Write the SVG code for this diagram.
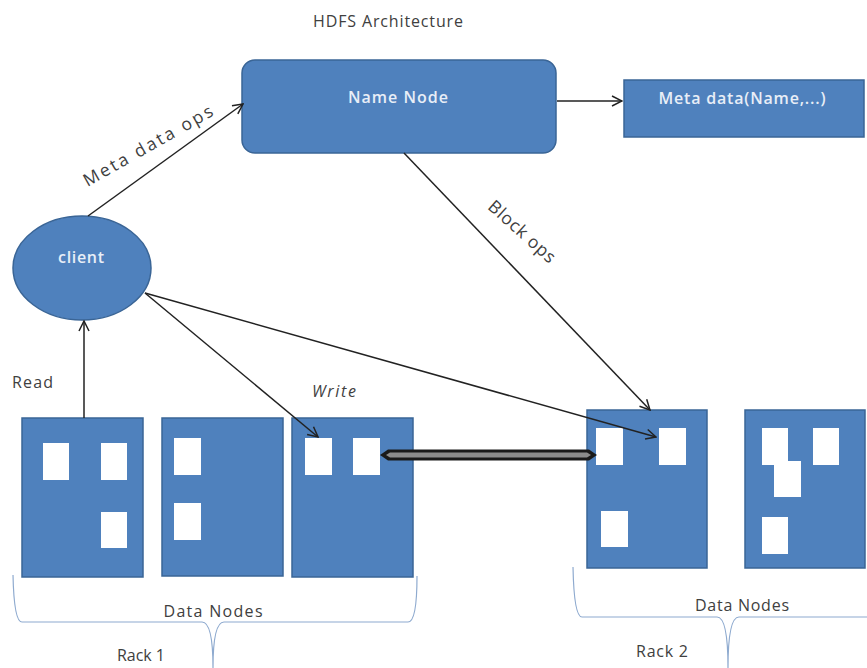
<svg xmlns="http://www.w3.org/2000/svg" width="867" height="668" viewBox="0 0 867 668">
  <style>
    .node { fill: #4f81bd; stroke: #3a6596; stroke-width: 1.5; }
    .blk { fill: #ffffff; stroke: none; }
    .lbl { font-family: "Open Sans", "Liberation Sans", sans-serif; fill: #404040; font-size: 16px; }
    .rot { font-size: 17.5px; }
    .in { font-family: "Open Sans", "Liberation Sans", sans-serif; fill: #e8eef7; font-size: 16px; font-weight: 600; }
    .wire { stroke: #222222; stroke-width: 1.5; fill: none; marker-end: url(#arr); }
    .brace { stroke: #8eaacf; stroke-width: 1.2; fill: none; }
  </style>
  <defs>
    <marker id="arr" viewBox="0 0 12 12" refX="11" refY="6" markerWidth="12" markerHeight="12" markerUnits="userSpaceOnUse" orient="auto">
      <path d="M1,1 L11,6 L1,11" fill="none" stroke="#222222" stroke-width="1.5"/>
    </marker>
  </defs>

  <rect width="867" height="668" fill="#ffffff"/>

  <text class="lbl" x="388" y="27" text-anchor="middle" font-size="15" textLength="150">HDFS Architecture</text>

  <g id="name-node">
    <rect class="node" x="242" y="60" width="314" height="93" rx="13"/>
    <text class="in" x="398" y="103" text-anchor="middle" textLength="100">Name Node</text>
  </g>

  <g id="meta-data">
    <rect class="node" x="624" y="80" width="240" height="57"/>
    <text class="in" x="742" y="104" text-anchor="middle" textLength="167">Meta data(Name,...)</text>
  </g>

  <g id="client">
    <ellipse class="node" cx="82" cy="268" rx="69" ry="52"/>
    <text class="in" x="81" y="263" text-anchor="middle" textLength="46">client</text>
  </g>

  <!-- Rack 1 data nodes -->
  <g id="dn1">
    <rect class="node" x="22" y="418" width="121" height="159"/>
    <rect class="blk" x="43" y="443" width="26" height="37"/>
    <rect class="blk" x="101" y="443" width="26" height="37"/>
    <rect class="blk" x="101" y="512" width="26" height="36"/>
  </g>
  <g id="dn2">
    <rect class="node" x="162" y="418" width="121" height="158"/>
    <rect class="blk" x="174" y="438" width="27" height="37"/>
    <rect class="blk" x="174" y="503" width="27" height="37"/>
  </g>
  <g id="dn3">
    <rect class="node" x="292" y="418" width="121" height="159"/>
    <rect class="blk" x="305" y="438" width="27" height="37"/>
    <rect class="blk" x="353" y="438" width="27" height="37"/>
  </g>

  <!-- Rack 2 data nodes -->
  <g id="dn4">
    <rect class="node" x="587" y="410" width="120" height="158"/>
    <rect class="blk" x="596" y="428" width="27" height="37"/>
    <rect class="blk" x="659" y="428" width="27" height="37"/>
    <rect class="blk" x="601" y="511" width="27" height="36"/>
  </g>
  <g id="dn5">
    <rect class="node" x="745" y="410" width="120" height="158"/>
    <rect class="blk" x="762" y="428" width="26" height="37"/>
    <rect class="blk" x="813" y="428" width="26" height="37"/>
    <rect class="blk" x="774" y="461" width="27" height="36"/>
    <rect class="blk" x="762" y="517" width="26" height="37"/>
  </g>

  <g id="connectors">
    <line class="wire" x1="557" y1="101" x2="622" y2="101"/>
    <line class="wire" x1="88" y1="216" x2="243" y2="104"/>
    <line class="wire" x1="84" y1="418" x2="84" y2="321"/>
    <line class="wire" x1="145" y1="293" x2="318" y2="437"/>
    <line class="wire" x1="145" y1="293" x2="656" y2="437"/>
    <line class="wire" x1="404" y1="153" x2="650" y2="410"/>
    <!-- replication pipe between racks -->
    <g id="pipe">
      <path d="M380,455 L388,449.5 L589,449.5 L597,455 L589,460.5 L388,460.5 Z" fill="#1a1a1a"/>
      <path d="M386,455 L390,452.5 L587,452.5 L591,455 L587,457.5 L390,457.5 Z" fill="#8c8c8c"/>
    </g>
  </g>

  <text class="lbl rot" transform="translate(151,151) rotate(-29.6)" text-anchor="middle" textLength="146">Meta data ops</text>
  <text class="lbl rot" transform="translate(518,236) rotate(42)" text-anchor="middle" textLength="84">Block ops</text>
  <text class="lbl" x="12" y="388" textLength="41">Read</text>
  <text class="lbl" x="312" y="397" font-style="italic" textLength="44">Write</text>

  <!-- Rack braces -->
  <g id="rack1">
    <path class="brace" d="M13,575 Q14,622 22,622 L202,622 Q213,622 213,668 M213,668 Q213,622 224,622 L408,622 Q417,622 417,576"/>
    <text class="lbl" x="213" y="617" text-anchor="middle" textLength="99">Data Nodes</text>
    <text class="lbl" x="141" y="661" text-anchor="middle" textLength="48">Rack 1</text>
  </g>
  <g id="rack2">
    <path class="brace" d="M573,567 Q574,617 582,617 L717,617 Q728,617 728,668 M728,668 Q728,617 739,617 L867,617"/>
    <text class="lbl" x="742" y="611" text-anchor="middle" textLength="94">Data Nodes</text>
    <text class="lbl" x="662" y="657" text-anchor="middle" textLength="52">Rack 2</text>
  </g>
</svg>
